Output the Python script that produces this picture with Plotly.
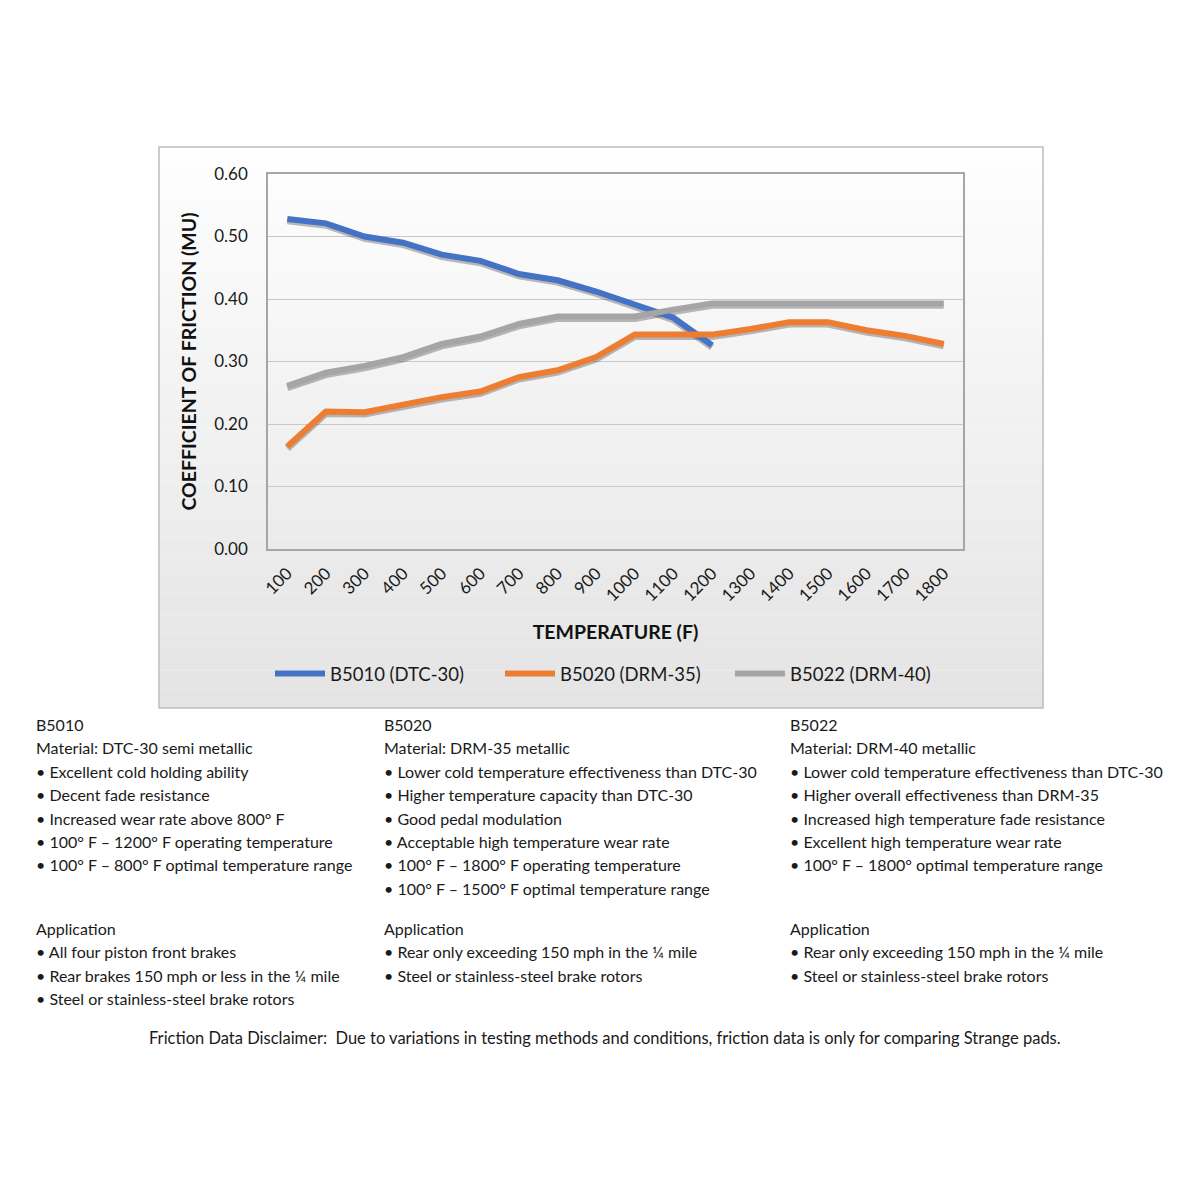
import plotly.graph_objects as go

temps = ["100","200","300","400","500","600","700","800","900","1000","1100","1200","1300","1400","1500","1600","1700","1800"]
b5010 = [0.528,0.521,0.50,0.49,0.471,0.461,0.44,0.43,0.412,0.392,0.37,0.326]
b5020 = [0.164,0.22,0.219,0.232,0.243,0.252,0.275,0.286,0.307,0.343,0.343,0.343,0.352,0.363,0.363,0.35,0.341,0.328]
b5022 = [0.261,0.282,0.293,0.307,0.328,0.34,0.36,0.372,0.372,0.372,0.383,0.393,0.393,0.393,0.393,0.393,0.393,0.393]
series_names = ["B5010 (DTC-30)", "B5020 (DRM-35)", "B5022 (DRM-40)"]
colors = ["#4472C4", "#ED7D31", "#A5A5A5"]
y_ticks = [0.0,0.1,0.2,0.3,0.4,0.5,0.6]

col1 = ["B5010", "Material: DTC-30 semi metallic",
        "• Excellent cold holding ability",
        "• Decent fade resistance",
        "• Increased wear rate above 800° F",
        "• 100° F – 1200° F operating temperature",
        "• 100° F – 800° F optimal temperature range"]
col2 = ["B5020", "Material: DRM-35 metallic",
        "• Lower cold temperature effectiveness than DTC-30",
        "• Higher temperature capacity than DTC-30",
        "• Good pedal modulation",
        "• Acceptable high temperature wear rate",
        "• 100° F – 1800° F operating temperature",
        "• 100° F – 1500° F optimal temperature range"]
col3 = ["B5022", "Material: DRM-40 metallic",
        "• Lower cold temperature effectiveness than DTC-30",
        "• Higher overall effectiveness than DRM-35",
        "• Increased high temperature fade resistance",
        "• Excellent high temperature wear rate",
        "• 100° F – 1800° optimal temperature range"]
app1 = ["Application", "• All four piston front brakes",
        "• Rear brakes 150 mph or less in the ¼ mile",
        "• Steel or stainless-steel brake rotors"]
app2 = ["Application", "• Rear only exceeding 150 mph in the ¼ mile",
        "• Steel or stainless-steel brake rotors"]
app3 = ["Application", "• Rear only exceeding 150 mph in the ¼ mile",
        "• Steel or stainless-steel brake rotors"]
disclaimer = "Friction Data Disclaimer:  Due to variations in testing methods and conditions, friction data is only for comparing Strange pads."

W = H = 1200
OFF = 8  # default page body margin
def px(x): return (x - OFF) / W
def py(y): return 1 - (y - OFF) / H

fig = go.Figure()
for name, vals, c in zip(series_names, [b5010, b5020, b5022], colors):
    # subtle shadow
    fig.add_trace(go.Scatter(x=temps[:len(vals)], y=[v - 0.003 for v in vals], mode="lines",
                             line=dict(color="rgba(60,60,60,0.35)", width=7), showlegend=False,
                             hoverinfo="skip"))
for name, vals, c in zip(series_names, [b5010, b5020, b5022], colors):
    fig.add_trace(go.Scatter(x=temps[:len(vals)], y=vals, mode="lines", name=name,
                             line=dict(color=c, width=6)))

shapes = []
# gradient background of chart box
n = 30
top, bot = 147, 708
for i in range(n):
    y0 = top + (bot - top) * i / n
    y1 = top + (bot - top) * (i + 1) / n
    t = i / (n - 1)
    v = int(round(254 - t * (254 - 228)))
    shapes.append(dict(type="rect", xref="paper", yref="paper", x0=px(159), x1=px(1043),
                       y0=py(y1), y1=py(y0), fillcolor=f"rgb({v},{v},{v})",
                       line=dict(width=0), layer="below"))
shapes.append(dict(type="rect", xref="paper", yref="paper", x0=px(159), x1=px(1043),
                   y0=py(708), y1=py(147), line=dict(color="#BDBDBD", width=1.5), layer="below"))

annotations = []
def add_lines(lines, x, y_start, dy=23.5, size=16):
    for i, t in enumerate(lines):
        annotations.append(dict(text=t, x=px(x), y=py(y_start + i * dy), xref="paper", yref="paper",
                                xanchor="left", yanchor="middle", showarrow=False,
                                font=dict(family="Lato, Open Sans, sans-serif", size=size, color="#1a1a1a")))
add_lines(col1, 34, 724)
add_lines(col2, 382, 724)
add_lines(col3, 788, 724)
add_lines(app1, 34, 928)
add_lines(app2, 382, 928)
add_lines(app3, 788, 928)
annotations.append(dict(text=disclaimer, x=px(605), y=py(1038), xref="paper", yref="paper",
                        xanchor="center", yanchor="middle", showarrow=False,
                        font=dict(family="Lato, Open Sans, sans-serif", size=16.5, color="#1a1a1a")))

fig.update_layout(
    width=W, height=H, margin=dict(l=0, r=0, t=0, b=0, autoexpand=False),
    paper_bgcolor="white", plot_bgcolor="rgba(0,0,0,0)",
    font=dict(family="Lato, Open Sans, sans-serif", color="#1a1a1a"),
    shapes=shapes, annotations=annotations,
    xaxis=dict(domain=[px(268), px(963)], type="category", categoryorder="array", categoryarray=temps,
               range=[-0.5, len(temps) - 0.5], ticklabelstandoff=6,
               tickangle=-45, tickfont=dict(size=17, color="#1a1a1a"), showgrid=False, automargin=False,
               showline=True, linecolor="#A6A6A6", linewidth=1.5, mirror=True, ticks="",
               title=dict(text="<b>TEMPERATURE (F)</b>", font=dict(size=19.5, color="#111"), standoff=21)),
    yaxis=dict(domain=[py(549), py(174)], range=[0, 0.6], tickvals=y_ticks, automargin=False,
               tickformat=".2f", tickfont=dict(size=17, color="#1a1a1a"),
               showgrid=True, gridcolor="#C9C9C9", gridwidth=1.2, zeroline=False,
               showline=True, linecolor="#A6A6A6", linewidth=1.5, mirror=True, ticks="",
               ticklabelstandoff=15,
               title=dict(text="<b>COEFFICIENT OF FRICTION (MU)</b>", font=dict(size=19.5, color="#111"), standoff=12)),
    legend=dict(orientation="h", x=px(615), xanchor="center", y=py(674), yanchor="middle",
                font=dict(size=18.5, color="#1a1a1a"), bgcolor="rgba(0,0,0,0)", itemwidth=50,
                entrywidth=165, entrywidthmode="pixels", traceorder="normal"),
)
fig.write_html("out.html")
